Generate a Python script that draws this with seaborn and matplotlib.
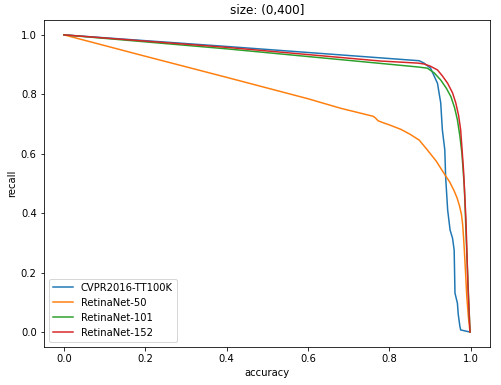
import pandas as pd
import seaborn as sns
import matplotlib
matplotlib.use("Agg")
import matplotlib.pyplot as plt

models = ["CVPR2016-TT100K", "RetinaNet-50", "RetinaNet-101", "RetinaNet-152"]
colors = ["#1f77b4", "#ff7f0e", "#2ca02c", "#d62728"]

cvpr_acc = [0.0, 0.4, 0.873, 0.885, 0.901, 0.918, 0.926, 0.930, 0.936, 0.938, 0.943, 0.949,
            0.955, 0.959, 0.961, 0.967, 0.969, 0.971, 0.973, 0.975, 0.998]
cvpr_rec = [1.0, 0.961, 0.913, 0.905, 0.888, 0.837, 0.771, 0.68, 0.613, 0.523, 0.411, 0.343,
            0.316, 0.276, 0.131, 0.097, 0.06, 0.040, 0.02, 0.007, 0.0]

r50_acc = [0.0, 0.2, 0.4, 0.6, 0.68, 0.76, 0.765, 0.772, 0.785, 0.8, 0.828, 0.85, 0.873,
           0.893, 0.915, 0.934, 0.948, 0.959, 0.966, 0.972, 0.977, 0.980, 0.982, 0.984,
           0.987, 0.990, 0.994, 0.998]
r50_rec = [1.0, 0.928, 0.857, 0.785, 0.753, 0.726, 0.721, 0.711, 0.704, 0.697, 0.682, 0.666,
           0.646, 0.613, 0.575, 0.534, 0.505, 0.475, 0.452, 0.425, 0.395, 0.36, 0.32, 0.276,
           0.2, 0.12, 0.05, 0.0]

r101_acc = [0.0, 0.4, 0.778, 0.87, 0.893, 0.91, 0.926, 0.94, 0.951, 0.96, 0.967, 0.973,
            0.978, 0.984, 0.990, 0.998]
r101_rec = [1.0, 0.953, 0.904, 0.892, 0.888, 0.872, 0.848, 0.82, 0.792, 0.755, 0.714, 0.66,
            0.602, 0.489, 0.266, 0.0]

r152_acc = [0.0, 0.4, 0.778, 0.87, 0.885, 0.9, 0.918, 0.93, 0.943, 0.955, 0.963, 0.97,
            0.975, 0.982, 0.988, 0.993, 0.998]
r152_rec = [1.0, 0.958, 0.912, 0.905, 0.902, 0.895, 0.882, 0.862, 0.837, 0.805, 0.771, 0.728,
            0.680, 0.545, 0.377, 0.15, 0.0]

series = {
    models[0]: (cvpr_acc, cvpr_rec),
    models[1]: (r50_acc, r50_rec),
    models[2]: (r101_acc, r101_rec),
    models[3]: (r152_acc, r152_rec),
}

frames = []
for name, (acc, rec) in series.items():
    frames.append(pd.DataFrame({"model": name, "accuracy": acc, "recall": rec}))
df = pd.concat(frames, ignore_index=True)

fig = plt.figure(figsize=(501 / 72, 385 / 72), dpi=72)
ax = fig.add_axes([0.0872, 0.099, 0.8915, 0.849])

sns.lineplot(data=df, x="accuracy", y="recall", hue="model", hue_order=models,
             palette=colors, sort=False, estimator=None, linewidth=1.5, ax=ax)

sns.move_legend(ax, "lower left", title=None)
ax.set_title("size: (0,400]")
ax.set_xlabel("accuracy")
ax.set_ylabel("recall")

fig.savefig("out.png", dpi=72)
